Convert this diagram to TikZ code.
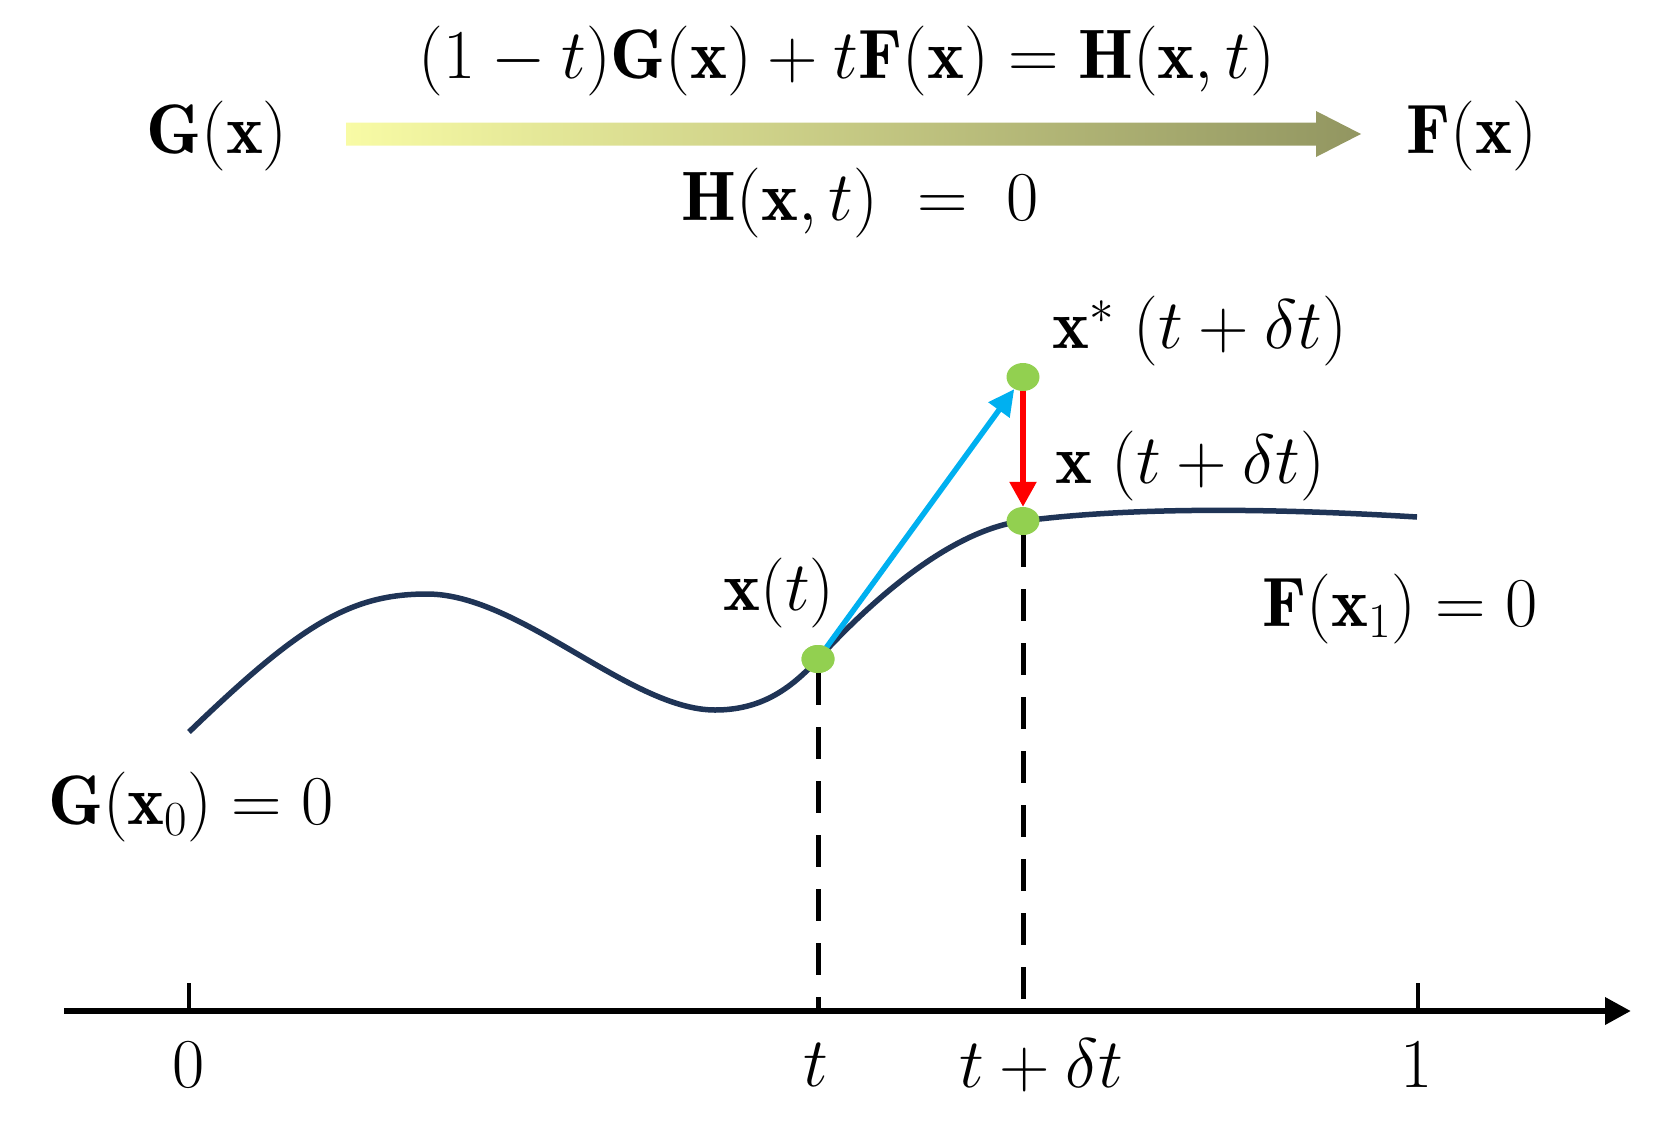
\RequirePackage{fix-cm}
\documentclass[tikz,border=0pt]{standalone}
\usepackage{fontspec}
\usetikzlibrary{shapes.geometric,arrows.meta}
\definecolor{gleft}{HTML}{F8FBA5}
\definecolor{gright}{HTML}{929661}
\definecolor{curvecol}{HTML}{1F3456}
\definecolor{dotgreen}{HTML}{92D050}
\definecolor{skyblue}{HTML}{00B0F0}
\definecolor{redarr}{HTML}{FF0000}
\tikzset{
  lab/.style={font=\fontsize{70}{84}\selectfont, inner sep=0pt},
  dotnode/.style={ellipse, fill=dotgreen, minimum width=33pt, minimum height=28pt, inner sep=0pt},
  curveline/.style={draw=curvecol, line width=5.5pt},
  dashline/.style={draw=black, line width=5pt, dash pattern=on 32pt off 22pt},
  bluearrow/.style={draw=skyblue, line width=5.5pt, -{Triangle[length=26pt,width=25pt]}},
  redarrow/.style={draw=redarr, line width=5.5pt, -{Triangle[length=25pt,width=26pt]}},
  axisline/.style={draw=black, line width=6.5pt, -{Triangle[length=26pt,width=26pt]}},
  tickline/.style={draw=black, line width=3.5pt},
}
\begin{document}
\begin{tikzpicture}[x=1pt,y=-1pt]
\useasboundingbox (0,0) rectangle (1661,1124);

% top gradient arrow
\shade[left color=gleft, right color=gright]
  (346,122.5) -- (1316,122.5) -- (1316,111) -- (1361,134) -- (1316,157) -- (1316,145.5) -- (346,145.5) -- cycle;

\node[lab] (Gx) at (217,136) {$\mathbf{G}(\mathbf{x})$};
\node[lab] (Fx) at (1472,136) {$\mathbf{F}(\mathbf{x})$};
\node[lab] (top) at (847,61) {$(1-t)\mathbf{G}(\mathbf{x})+t\mathbf{F}(\mathbf{x})=\mathbf{H}(\mathbf{x},t)$};
\node[lab] (H0) at (860,203) {$\mathbf{H}(\mathbf{x},t)\;=\;0$};

% curve
\draw[curveline] (189,732) .. controls (300,625) and (350,594) .. (427,594)
  .. controls (520,594) and (630,710) .. (715,710)
  .. controls (760,710) and (790,690) .. (818,659)
  .. controls (870,602) and (950,530) .. (1023,521)
  .. controls (1100,511) and (1220,505) .. (1417,517);

% axis
\coordinate (a0) at (64,1011);
\coordinate (a1) at (1631,1011);
\coordinate (t0) at (189,1011);
\coordinate (t1) at (1418,1011);
\draw[axisline] (a0) -- (a1);
\draw[tickline] (t0) -- ++(0,-28);
\draw[tickline] (t1) -- ++(0,-28);

% points
\node[dotnode] (xt) at (818,659) {};
\node[dotnode] (xd) at (1023,521) {};
\node[dotnode] (xs) at (1023,377) {};

\draw[dashline] (xt.south) -- (xt.center |- a0);
\draw[dashline] (xd.south) -- (xd.center |- a0);
\draw[bluearrow] (xt.center) -- (xs);
\draw[redarrow] (xs) -- (xd);
\node[dotnode] at (xt) {};

% labels
\node[lab, anchor=west] (lxs) at (1052,331) {$\mathbf{x}^{*}\;(t+\delta t)$};
\node[lab, anchor=west] (lxd) at (1055,466) {$\mathbf{x}\;(t+\delta t)$};
\node[lab] (lxt) at (779,593) {$\mathbf{x}(t)$};
\node[lab] (lF1) at (1400,609) {$\mathbf{F}(\mathbf{x}_1)=0$};
\node[lab] (lG0) at (191,807) {$\mathbf{G}(\mathbf{x}_0)=0$};

\node[lab] (l0) at (189,1065) {$0$};
\node[lab] (lt) at (816,1065) {$t$};
\node[lab] (ltd) at (1041,1065) {$t+\delta t$};
\node[lab] (l1) at (1417,1065) {$1$};
\end{tikzpicture}
\end{document}
